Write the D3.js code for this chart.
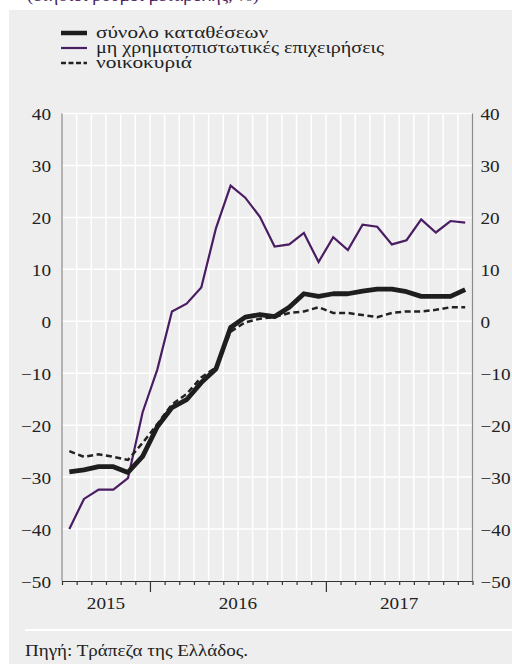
<!DOCTYPE html>
<html><head><meta charset="utf-8">
<script src="https://cdn.jsdelivr.net/npm/d3@7"></script>
<style>
html,body{margin:0;padding:0;background:#fff;}
svg{display:block;}
svg text{font-family:"Liberation Serif","Times New Roman",Times,serif;}
</style>
</head><body>
<script>
const months = ["2015-07","2015-08","2015-09","2015-10","2015-11","2015-12",
"2016-01","2016-02","2016-03","2016-04","2016-05","2016-06","2016-07","2016-08","2016-09","2016-10","2016-11","2016-12",
"2017-01","2017-02","2017-03","2017-04","2017-05","2017-06","2017-07","2017-08","2017-09","2017-10"];
const totalDeposits = [-29.0,-28.6,-28.0,-28.0,-29.1,-26.0,-20.3,-16.6,-15.1,-11.8,-9.2,-1.2,0.8,1.3,0.9,2.7,5.3,4.8,5.3,5.3,5.8,6.2,6.2,5.7,4.8,4.8,4.8,6.1];
const nonFinancial = [-40.0,-34.2,-32.4,-32.4,-30.2,-17.5,-9.3,1.9,3.4,6.5,17.9,26.1,23.8,20.1,14.4,14.8,17.0,11.4,16.2,13.7,18.6,18.2,14.8,15.6,19.6,17.1,19.3,19.0];
const households = [-25.0,-26.1,-25.6,-26.1,-26.7,-23.4,-19.8,-16.0,-14.0,-10.8,-8.9,-2.0,-0.2,0.5,0.8,1.6,1.9,2.7,1.6,1.6,1.2,0.8,1.6,1.9,1.9,2.2,2.7,2.7];
const yTicks = [40,30,20,10,0,-10,-20,-30,-40,-50];
const years = ["2015","2016","2017"];
const seriesNames = ["σύνολο καταθέσεων","μη χρηματοπιστωτικές επιχειρήσεις","νοικοκυριά"];

const W = 512, H = 664;
const L = 62, R = 472.5, T = 113.5, B = 581;
const purple = "#4a1d62";
const STRETCH = 1.2;

const svg = d3.select("body").append("svg").attr("width", W).attr("height", H);

function stretch(sel, k) {
  sel.each(function () {
    const n = this.getComputedTextLength();
    d3.select(this).attr("textLength", n * k).attr("lengthAdjust", "spacingAndGlyphs");
  });
}

// cut-off subtitle
svg.append("text").attr("x", 27).attr("y", 1).attr("fill", purple)
  .style("font-size", "16px")
  .attr("textLength", 232).attr("lengthAdjust", "spacingAndGlyphs")
  .text("(ετήσιοι ρυθμοί μεταβολής, %)");

svg.append("rect").attr("x", 9).attr("y", 10).attr("width", W - 9).attr("height", H - 10).attr("fill", "#eeeeee");

const x = d3.scaleLinear().domain([0, months.length]).range([L, R]);
const y = d3.scaleLinear().domain([-50, 40]).range([B, T]);

// grid
const g = svg.append("g");
g.selectAll("line.vg").data(d3.range(1, months.length)).join("line")
  .attr("x1", d => x(d)).attr("x2", d => x(d)).attr("y1", T).attr("y2", B)
  .attr("stroke", "#fff").attr("stroke-width", 1.5);
g.selectAll("line.hg").data(yTicks.filter(v => v > -50)).join("line")
  .attr("x1", L).attr("x2", R).attr("y1", d => y(d)).attr("y2", d => y(d))
  .attr("stroke", "#fff").attr("stroke-width", 1.5);

// left & right axis lines
svg.append("line").attr("x1", L).attr("x2", L).attr("y1", T).attr("y2", B).attr("stroke", "#8a8a8a").attr("stroke-width", 1.2);
svg.append("line").attr("x1", R).attr("x2", R).attr("y1", T).attr("y2", B).attr("stroke", "#8a8a8a").attr("stroke-width", 1.2);

// y labels
const leftAxis = d3.axisLeft(y).tickValues(yTicks).tickSize(0).tickPadding(11);
const la = svg.append("g").attr("transform", `translate(${L},0)`).call(leftAxis);
const rightAxis = d3.axisRight(y).tickValues(yTicks).tickSize(0).tickPadding(8);
const ra = svg.append("g").attr("transform", `translate(${R},0)`).call(rightAxis);
[la, ra].forEach(a => {
  a.select(".domain").remove();
  a.attr("font-family", null).attr("font-size", null);
  a.selectAll("text").style("font-size", "16px").attr("fill", "#222").attr("dy", "0.38em");
  stretch(a.selectAll("text"), STRETCH);
});

// bottom axis with month ticks
const bottom = d3.axisBottom(x).tickValues(d3.range(0, months.length + 1)).tickSize(4).tickFormat("");
const ba = svg.append("g").attr("transform", `translate(0,${B})`).call(bottom);
ba.select(".domain").attr("stroke", "#333").attr("stroke-width", 1.2).attr("d", `M${L},0.5H${R}`);
ba.selectAll(".tick line").attr("stroke", "#333").attr("stroke-width", 1.2)
  .attr("y2", (d) => (d === 6 || d === 18) ? 11 : 4);

// year labels
const yearCenters = [[0, 6], [6, 18], [18, 28]];
const yl = svg.selectAll("text.yr").data(years).join("text")
  .attr("x", (d, i) => x((yearCenters[i][0] + yearCenters[i][1]) / 2))
  .attr("y", 609).attr("text-anchor", "middle")
  .style("font-size", "16px").attr("fill", "#222")
  .text(d => d);
stretch(yl, STRETCH);

// lines
const line = d3.line().x((d, i) => x(i + 0.5)).y(d => y(d));
svg.append("path").datum(nonFinancial).attr("d", line).attr("fill", "none")
  .attr("stroke", purple).attr("stroke-width", 2.2).attr("stroke-linejoin", "miter");
svg.append("path").datum(households).attr("d", line).attr("fill", "none")
  .attr("stroke", "#222").attr("stroke-width", 2.5).attr("stroke-dasharray", "6,3.5");
svg.append("path").datum(totalDeposits).attr("d", line).attr("fill", "none")
  .attr("stroke", "#1e1e1e").attr("stroke-width", 4.8).attr("stroke-linejoin", "round");

// legend
const legY = [33, 48, 63];
const legW = [172, 288, 96];
const leg = svg.append("g");
leg.append("line").attr("x1", 61).attr("x2", 87).attr("y1", legY[0]).attr("y2", legY[0]).attr("stroke", "#1e1e1e").attr("stroke-width", 4.5);
leg.append("line").attr("x1", 61).attr("x2", 87).attr("y1", legY[1]).attr("y2", legY[1]).attr("stroke", purple).attr("stroke-width", 2.2);
leg.append("line").attr("x1", 61).attr("x2", 87).attr("y1", legY[2]).attr("y2", legY[2]).attr("stroke", "#222").attr("stroke-width", 2.5).attr("stroke-dasharray", "5,2.5");
leg.selectAll("text").data(seriesNames).join("text")
  .attr("x", 96).attr("y", (d, i) => legY[i] + 5)
  .style("font-size", "16.5px").attr("fill", "#222")
  .attr("textLength", (d, i) => legW[i]).attr("lengthAdjust", "spacingAndGlyphs")
  .text(d => d);

// separator and source
svg.append("line").attr("x1", 25).attr("x2", W).attr("y1", 630).attr("y2", 630).attr("stroke", "#fff").attr("stroke-width", 2);
svg.append("text").attr("x", 25).attr("y", 656).style("font-size", "16px").attr("fill", "#222")
  .attr("textLength", 223).attr("lengthAdjust", "spacingAndGlyphs")
  .text("Πηγή: Τράπεζα της Ελλάδος.");
</script>
</body></html>
